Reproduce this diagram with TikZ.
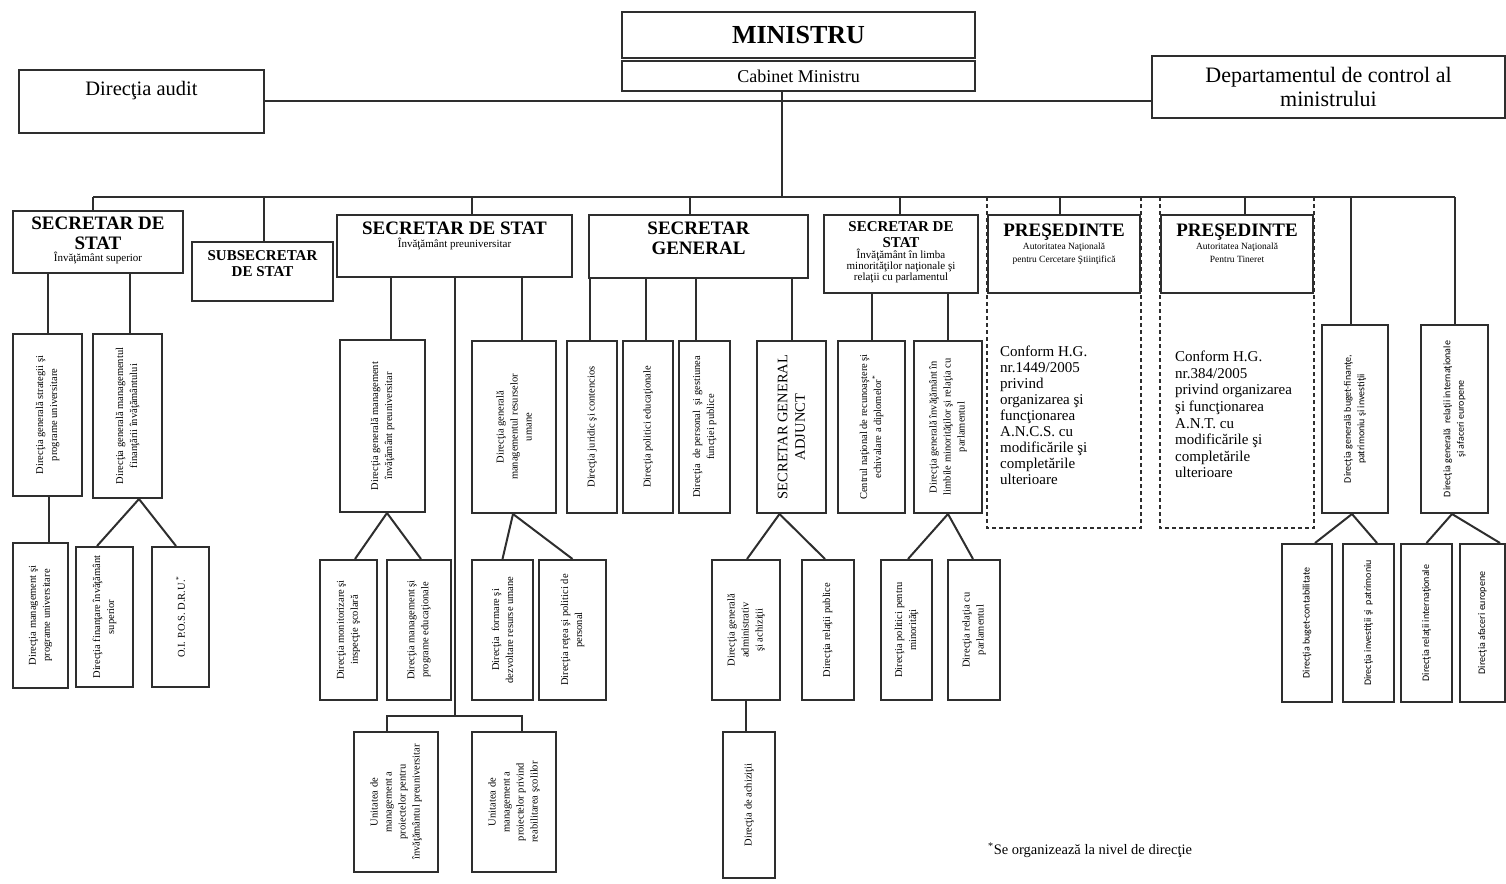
\documentclass[tikz,border=0pt]{standalone}
\usepackage{fontspec}
\setmainfont{Liberation Serif}
\newfontfamily\carlito{Carlito}
\usepackage{graphicx}
\usetikzlibrary{positioning, calc}
\definecolor{linec}{HTML}{2E2E2E}
\tikzset{unit/.style={draw=linec, line width=2pt, inner sep=0pt},
  link/.style={draw=linec, line width=2pt},
  frame/.style={draw=linec, line width=2pt, dash pattern=on 4pt off 3pt},
  vsmall/.style={font=\fontsize{10.5}{14}\selectfont},
  vsans/.style={font=\carlito\fontsize{10}{13.5}\selectfont}}
\newcommand{\hdfont}{\fontsize{19}{20}\selectfont\bfseries}
\newcommand{\hdsmall}{\fontsize{15}{16}\selectfont\bfseries}
\newcommand{\subfont}{\fontsize{11}{11.5}\selectfont}
\newcommand{\rottxt}[2]{\rotatebox{90}{\parbox{#1pt}{\centering #2}}}
\newcommand{\toptxt}[3]{\parbox[c][#1pt][t]{#2pt}{\centering #3}}

\begin{document}
\begin{tikzpicture}[x=1pt, y=-1pt]
			\useasboundingbox (0,0) rectangle (1506,883);

			% Top level
			\node[unit, minimum width=353, minimum height=46, font=\fontsize{26}{28}\selectfont\bfseries] (min) at (798.5,35) {MINISTRU};
			\node[unit, minimum width=353, minimum height=30, font=\fontsize{18}{20}\selectfont] (cab) at (798.5,76) {Cabinet Ministru};
			\node[unit, font=\fontsize{20.5}{22}\selectfont] (audit) at (141.5,101) {\toptxt{63}{245}{\vspace*{12pt}Direcţia audit}};
			\node[unit, minimum width=353, minimum height=62, align=center, font=\fontsize{22}{24}\selectfont] (dep) at (1328.5,87) {Departamentul de control al\\ ministrului};

			% Secretaries
			\node[unit] (ss1) at (98,242) {\toptxt{62}{170}{\vspace*{6pt}{\hdfont SECRETAR DE\\ STAT\par}{\subfont Învăţământ superior\par}}};
			\node[unit] (subs) at (262.5,271.5) {\toptxt{59}{141}{\vspace*{9pt}{\hdsmall SUBSECRETAR\\ DE STAT\par}}};
			\node[unit] (ss2) at (454.5,246) {\toptxt{62}{235}{\vspace*{7pt}{\hdfont SECRETAR DE STAT\par}\vspace{1pt}{\subfont Învăţământ preuniversitar\par}}};
			\node[unit] (sg) at (698.5,246.5) {\toptxt{63}{219}{\vspace*{7pt}{\hdfont\fontsize{19}{20}\selectfont SECRETAR\\ GENERAL\par}}};
			\node[unit] (ss3) at (901,254) {\toptxt{78}{154}{\vspace*{7pt}{\hdsmall SECRETAR DE\\ STAT\par}{\subfont\fontsize{11}{11}\selectfont Învăţământ în limba\\ minorităţilor naţionale şi\\ relaţii cu parlamentul\par}}};
			\node[unit] (pr1) at (1064,254) {\toptxt{78}{152}{\vspace*{9pt}{\hdfont PREŞEDINTE\par}{\fontsize{9.5}{13}\selectfont Autoritatea Naţională\\ pentru Cercetare Ştiinţifică\par}}};
			\node[unit] (pr2) at (1237,254) {\toptxt{78}{152}{\vspace*{9pt}{\hdfont PREŞEDINTE\par}{\fontsize{9.5}{13}\selectfont Autoritatea Naţională\\ Pentru Tineret\par}}};
			\node[unit, vsans, minimum width=66, minimum height=188] (dgbf) at (1355,419) {\rottxt{178}{Direcţia generală buget-finanţe,\\ patrimoniu şi investiţii}};
			\node[unit, vsans, minimum width=67, minimum height=188] (dgri) at (1454.5,419) {\rottxt{178}{Direcţia generală~ relaţii internaţionale\\ şi afaceri europene}};

			% Under SECRETAR DE STAT - superior
			\node[unit, vsmall, minimum width=69, minimum height=162] (dgsp) at (47.5,415) {\rottxt{154}{Direcţia generală strategii şi\\ programe universitare}};
			\node[unit, vsmall, minimum width=69, minimum height=164] (dgmf) at (127.5,416) {\rottxt{156}{Direcţia generală managementul\\ finanţării învăţământului}};
			\node[unit, vsmall, minimum width=55, minimum height=145] (dmpu) at (40.5,615.5) {\rottxt{137}{Direcţia management şi\\ programe universitare}};
			\node[unit, vsmall, minimum width=57, minimum height=140] (dfis) at (104.5,617) {\rottxt{132}{Direcţia finanţare învăţământ\\ superior}};
			\node[unit, vsmall, minimum width=57, minimum height=140] (oipos) at (180.5,617) {\rottxt{132}{O.I. P.O.S. D.R.U.\textsuperscript{*}}};

			% Under SECRETAR DE STAT - preuniversitar
			\node[unit, vsmall, minimum width=85, minimum height=172] (dgmip) at (382.5,426) {\rottxt{164}{Direcţia generală management\\ învăţământ preuniversitar}};
			\node[unit, vsmall, minimum width=84, minimum height=172] (dgmru) at (514,427) {\rottxt{164}{Direcţia generală\\ managementul resurselor\\ umane}};
			\node[unit, vsmall, minimum width=57, minimum height=140] (dmis) at (348.5,630) {\rottxt{132}{Direcţia monitorizare şi\\ inspecţie şcolară}};
			\node[unit, vsmall, minimum width=64, minimum height=140] (dmpe) at (419,630) {\rottxt{132}{Direcţia management şi\\ programe educaţionale}};
			\node[unit, vsmall, minimum width=61, minimum height=140] (dfdr) at (502.5,630) {\rottxt{132}{Direcţia~ formare şi\\ dezvoltare resurse umane}};
			\node[unit, vsmall, minimum width=67, minimum height=140] (drpp) at (572.5,630) {\rottxt{132}{Direcţia reţea şi politici de\\ personal}};
			\node[unit, vsmall, minimum width=84, minimum height=140] (ump1) at (396,802) {\rottxt{132}{Unitatea de\\ management a\\ proiectelor pentru\\ învăţământul preuniversitar}};
			\node[unit, vsmall, minimum width=84, minimum height=140] (ump2) at (514,802) {\rottxt{132}{Unitatea de\\ management a\\ proiectelor privind\\ reabilitarea şcolilor}};

			% Under SECRETAR GENERAL
			\node[unit, vsmall, minimum width=50, minimum height=172] (djc) at (592,427) {\rottxt{164}{Direcţia juridic şi contencios}};
			\node[unit, vsmall, minimum width=50, minimum height=172] (dpe) at (648,427) {\rottxt{164}{Direcţia politici educaţionale}};
			\node[unit, vsmall, minimum width=51, minimum height=172] (dpgf) at (704.5,427) {\rottxt{164}{Direcţia~ de personal~ şi gestiunea\\ funcţiei publice}};
			\node[unit, minimum width=69, minimum height=172, font=\fontsize{14.5}{17.5}\selectfont] (sga) at (791.5,427) {\rottxt{164}{SECRETAR GENERAL\\ ADJUNCT}};
			\node[unit, vsmall, minimum width=68, minimum height=140] (dgaa) at (746,630) {\rottxt{132}{Direcţia generală\\ administrativ\\ şi achiziţii}};
			\node[unit, vsmall, minimum width=52, minimum height=140] (drp) at (827.5,630) {\rottxt{132}{Direcţia relaţii publice}};
			\node[unit, vsmall, minimum width=52, minimum height=146] (dach) at (749,805) {\rottxt{138}{Direcţia de achiziţii}};

			% Under SECRETAR DE STAT - minoritati
			\node[unit, vsmall, minimum width=67, minimum height=172] (cnre) at (871.5,427) {\rottxt{166}{Centrul naţional de recunoaştere şi\\ echivalare a diplomelor\textsuperscript{*}}};
			\node[unit, vsmall, minimum width=68, minimum height=172] (dgil) at (948,427) {\rottxt{166}{Direcţia generală învăţământ în\\ limbile minorităţilor şi relaţia cu\\ parlamentul}};
			\node[unit, vsmall, minimum width=51, minimum height=140] (dppm) at (906.5,630) {\rottxt{132}{Direcţia politici pentru\\ minorităţi}};
			\node[unit, vsmall, minimum width=52, minimum height=140] (drcp) at (974,630) {\rottxt{132}{Direcţia relaţia cu\\ parlamentul}};

			% Right side
			\node[unit, vsans, minimum width=50, minimum height=158] (dbc) at (1307,623) {\rottxt{150}{Direcţia buget-contabilitate}};
			\node[unit, vsans, minimum width=51, minimum height=158] (dip) at (1368.5,623) {\rottxt{150}{Direcţia investiţii şi~ patrimoniu}};
			\node[unit, vsans, minimum width=51, minimum height=158] (dri) at (1426.5,623) {\rottxt{150}{Direcţia relaţii internaţionale}};
			\node[unit, vsans, minimum width=45, minimum height=158] (dae) at (1482.5,623) {\rottxt{150}{Direcţia afaceri europene}};

			% Notes
			\node[anchor=north west, inner sep=0pt, align=left, font=\fontsize{15}{16}\selectfont] (pr1note) at (1000,346) {Conform H.G.\\ nr.1449/2005\\ privind\\ organizarea şi\\ funcţionarea\\ A.N.C.S. cu\\ modificările şi\\ completările\\ ulterioare};
			\node[anchor=north west, inner sep=0pt, align=left, font=\fontsize{15}{16.6}\selectfont] (pr2note) at (1175,351) {Conform H.G.\\ nr.384/2005\\ privind organizarea\\ şi funcţionarea\\ A.N.T. cu\\ modificările şi\\ completările\\ ulterioare};
			\node[anchor=west, inner sep=0pt, font=\fontsize{14.5}{16}\selectfont] (foot) at (988,850) {\textsuperscript{*}Se organizează la nivel de direcţie};

			% Paths
			\coordinate (bus) at (0,197);
			\coordinate (fbot) at (0,528);
			\coordinate (ujunc) at (455,716);
			\draw[link] (audit.east) -- (audit.east -| dep.west);
			\draw[link] ([xshift=-16.5]cab.south) -- ([xshift=-16.5]cab.south |- bus);
			\draw[link] ([xshift=-5]ss1.north |- bus) -- (dgri.north |- bus);
			\foreach \n/\s in {ss1/-5, subs/1.5, ss2/17.5, sg/-8.5, ss3/-1, pr1/-4, pr2/8, dgbf/-4, dgri/0}
				\draw[link] ([xshift=\s]\n.north |- bus) -- ([xshift=\s]\n.north);
			\draw[frame] (pr1.north west |- bus) rectangle (pr1.east |- fbot);
			\draw[frame] (pr2.north west |- bus) rectangle (pr2.east |- fbot);

			% Straight drops
			\foreach \p/\c/\s in {ss1/dgsp/0, ss1/dgmf/2.5, ss2/dgmip/8.5, ss2/dgmru/8, sg/djc/-2, sg/dpe/-2, sg/dpgf/-8.5, sg/sga/0, ss3/cnre/0, ss3/dgil/0}
				\draw[link] ([xshift=\s]\c.north |- \p.south) -- ([xshift=\s]\c.north);
			\draw[link] ([xshift=1.5]dgsp.south) -- ([xshift=1.5]dgsp.south |- dmpu.north);
			\draw[link] (dgaa.south) -- (dgaa.south |- dach.north);
			\draw[link] (ss2.south) -- (ss2.south |- ujunc);
			\draw[link] ([xshift=-9]ump1.north) -- ([xshift=-9]ump1.north |- ujunc) -- ([xshift=8]ump2.north |- ujunc) -- ([xshift=8]ump2.north);

			% Forks
			\foreach \p/\a/\c/\e in {dgmf/11.5/dfis/-7.5, dgmf/11.5/oipos/-4.5,
				dgmip/4.5/dmis/6.5, dgmip/4.5/dmpe/2, dgmru/-1/dfdr/0, dgmru/-1/drpp/0,
				sga/-12/dgaa/1, sga/-12/drp/-2.5, dgil/0/dppm/1.5, dgil/0/drcp/-1,
				dgbf/-3/dbc/8, dgbf/-3/dip/8.5, dgri/-2.5/dri/0, dgri/-2.5/dae/17.5}
				\draw[link] ([xshift=\a]\p.south) -- ([xshift=\e]\c.north);
		\end{tikzpicture}
\end{document}
